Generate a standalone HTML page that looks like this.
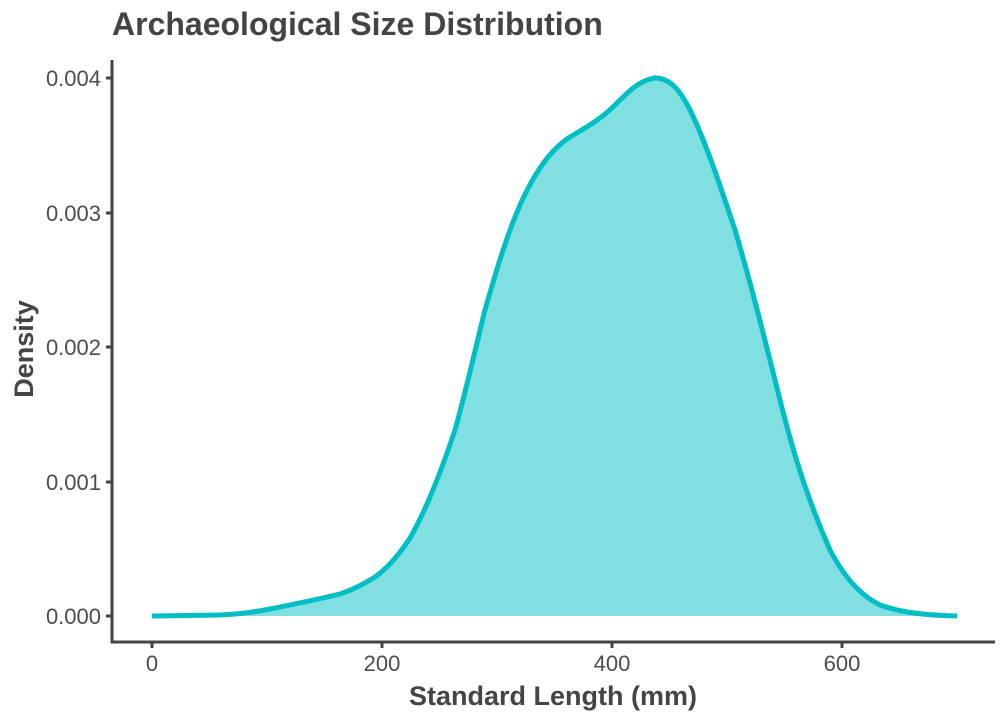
<!DOCTYPE html>
<html><head><meta charset="utf-8"><style>
body{margin:0;background:#fff;}
svg{display:block;font-family:"Liberation Sans",sans-serif;}
</style></head><body>
<svg width="1008" height="720" viewBox="0 0 1008 720">
<rect width="1008" height="720" fill="#fff"/>
<text x="112" y="35" font-size="32" font-weight="bold" fill="#444">Archaeological Size Distribution</text>
<path d="M152,616 L220,615 C240,614 255,612 270,609 C290,605 315,600 340,594 C355,589 365,583 375,577 C390,566 400,553 410,538 C425,512 440,475 455,430 C465,395 475,350 485,310 C495,275 505,240 520,205 C535,172 550,150 570,137 C585,128 600,120 615,105 C630,90 640,80 655,78 C670,78 680,90 690,110 C705,140 720,185 735,230 C750,280 765,340 780,400 C795,460 810,505 830,550 C845,578 860,595 880,605 C900,612 920,615 957,616 Z" fill="#00bfc4" fill-opacity="0.5" stroke="none"/>
<path d="M152,616 L220,615 C240,614 255,612 270,609 C290,605 315,600 340,594 C355,589 365,583 375,577 C390,566 400,553 410,538 C425,512 440,475 455,430 C465,395 475,350 485,310 C495,275 505,240 520,205 C535,172 550,150 570,137 C585,128 600,120 615,105 C630,90 640,80 655,78 C670,78 680,90 690,110 C705,140 720,185 735,230 C750,280 765,340 780,400 C795,460 810,505 830,550 C845,578 860,595 880,605 C900,612 920,615 957,616" fill="none" stroke="#00bfc4" stroke-width="5"/>
<g stroke="#444" stroke-width="3" fill="none">
<path d="M112,60 V642 H995"/>
<path d="M106,616 H112 M106,482 H112 M106,347 H112 M106,213 H112 M106,78 H112"/>
<path d="M152,642 V648 M382,642 V648 M612,642 V648 M842,642 V648"/>
</g>
<g font-size="22" fill="#4d4d4d" text-anchor="end">
<text x="101" y="624">0.000</text>
<text x="101" y="490">0.001</text>
<text x="101" y="355">0.002</text>
<text x="101" y="221">0.003</text>
<text x="101" y="86">0.004</text>
</g>
<g font-size="22" fill="#4d4d4d" text-anchor="middle">
<text x="152" y="671">0</text>
<text x="382" y="671">200</text>
<text x="612" y="671">400</text>
<text x="842" y="671">600</text>
</g>
<text x="553" y="705" font-size="27" font-weight="bold" fill="#444" text-anchor="middle">Standard Length (mm)</text>
<text transform="translate(33,349) rotate(-90)" font-size="27" font-weight="bold" fill="#444" text-anchor="middle">Density</text>
</svg>
</body></html>
